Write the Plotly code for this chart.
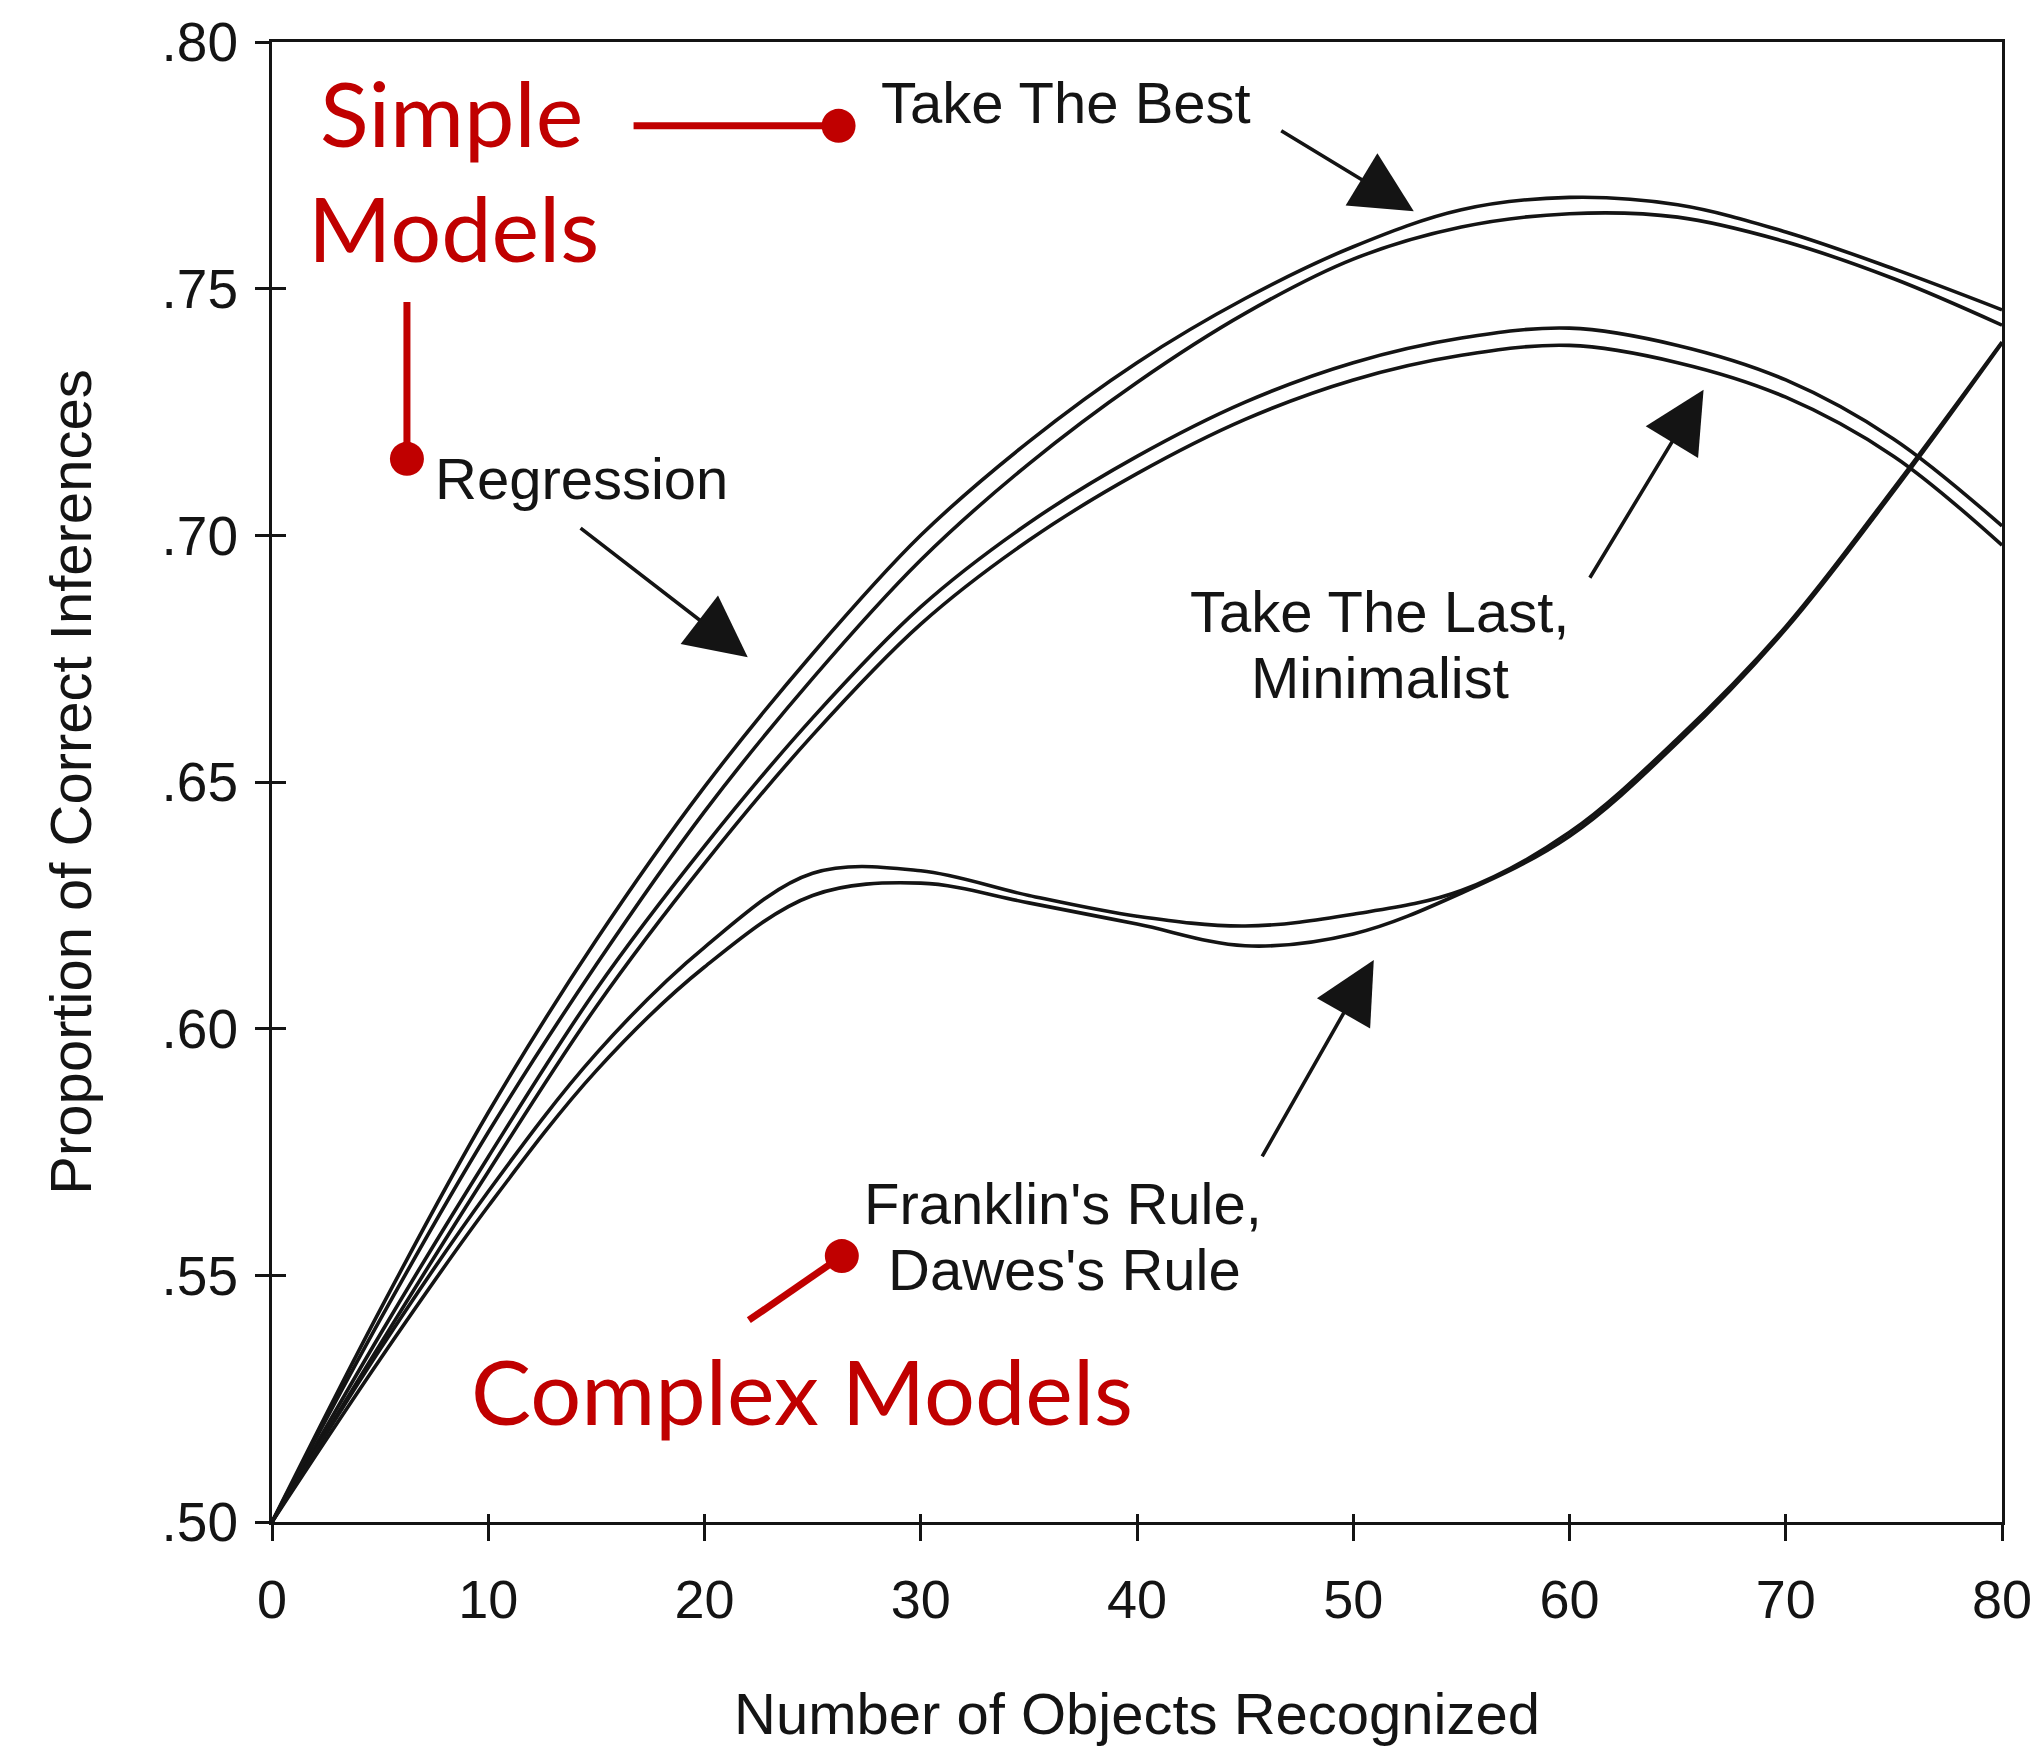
import plotly.graph_objects as go

# ---------------- data ----------------
objects_recognized = [0, 5, 10, 15, 20, 25, 30, 35, 40, 45, 50, 55, 60, 65, 70, 75, 80]

take_the_best = [.500, .543, .583, .618, .649, .676, .700, .719, .735, .748, .7585, .766, .7685, .767, .7615, .754, .7457]
regression    = [.500, .541, .579, .613, .644, .671, .695, .7145, .731, .745, .756, .7625, .7652, .7645, .7595, .752, .7426]
take_the_last = [.500, .538, .574, .608, .637, .663, .6855, .7025, .716, .727, .735, .740, .742, .7385, .7315, .7195, .7019]
minimalist    = [.500, .536, .571, .6045, .6335, .6595, .682, .699, .7125, .7235, .7315, .7365, .7385, .735, .728, .716, .698]
franklin      = [.500, .535, .567, .595, .6165, .6315, .632, .627, .6228, .6208, .6232, .628, .6398, .6588, .6815, .7096, .7392]
dawes         = [.500, .533, .564, .5915, .6125, .627, .6295, .6255, .6212, .6168, .6192, .6275, .639, .658, .681, .709, .739]

x_tick_vals = [0, 10, 20, 30, 40, 50, 60, 70, 80]
y_tick_vals = [.50, .55, .60, .65, .70, .75, .80]
y_tick_text = [".50", ".55", ".60", ".65", ".70", ".75", ".80"]

x_title = "Number of Objects Recognized"
y_title = "Proportion of Correct Inferences"

# ---------------- styles ----------------
INK = "#141414"
RED = "#C00000"
SANS = "Liberation Sans, Arial, Helvetica, sans-serif"
HUMAN = "Lato, 'Open Sans', sans-serif"

fig = go.Figure()

series = [take_the_best, regression, take_the_last, minimalist, franklin]
for s in series:
    fig.add_trace(go.Scatter(x=objects_recognized, y=s, mode="lines",
                             line=dict(color=INK, width=3.6, shape="spline", smoothing=1.0),
                             hoverinfo="skip"))
# last curve drawn on the overlaid (matching) axes that carry the inner tick marks
fig.add_trace(go.Scatter(x=objects_recognized, y=dawes, mode="lines", xaxis="x2", yaxis="y2",
                         line=dict(color=INK, width=3.6, shape="spline", smoothing=1.0),
                         hoverinfo="skip"))

axis_common = dict(showgrid=False, zeroline=False, tickcolor=INK, tickwidth=3, automargin=False)

fig.update_layout(
    width=2040, height=1746,
    margin=dict(l=272, r=38, t=42, b=224, autoexpand=False),
    paper_bgcolor="white", plot_bgcolor="white",
    showlegend=False,
    xaxis=dict(range=[0, 80], tickvals=x_tick_vals, ticks="outside", ticklen=16,
               showline=True, linewidth=3, linecolor=INK, mirror=True,
               ticklabeloverflow="allow",
               tickfont=dict(family=SANS, size=54, color=INK), ticklabelstandoff=12,
               title=dict(text=x_title, font=dict(family=SANS, size=58, color=INK), standoff=66),
               **axis_common),
    yaxis=dict(range=[0.5, 0.8], tickvals=y_tick_vals, ticktext=y_tick_text, ticks="outside", ticklen=14,
               showline=True, linewidth=3, linecolor=INK, mirror=True,
               ticklabeloverflow="allow",
               tickfont=dict(family=SANS, size=55, color=INK), ticklabelstandoff=6,
               title=dict(text=y_title, font=dict(family=SANS, size=58, color=INK), standoff=52),
               **axis_common),
    xaxis2=dict(overlaying="x", matches="x", tickvals=x_tick_vals, ticks="inside", ticklen=8,
                showticklabels=False, showline=False, **axis_common),
    yaxis2=dict(overlaying="y", matches="y", tickvals=y_tick_vals, ticks="inside", ticklen=14,
                showticklabels=False, showline=False, **axis_common),
)

# ---------------- black labels ----------------
def label(text, x, y, xanchor="center", size=58):
    fig.add_annotation(x=x, y=y, xref="x", yref="y", text=text, showarrow=False,
                       xanchor=xanchor, yanchor="middle",
                       font=dict(family=SANS, size=size, color=INK))

label("Take The Best", 36.7, .7878)
label("Regression", 7.45, .7116, xanchor="left")
label("Take The Last,", 51.2, .6845)
label("Minimalist", 51.25, .6711)
label("Franklin's Rule,", 36.6, .5645)
label("Dawes's Rule", 36.65, .5511)

# ---------------- arrows ----------------
def arrow(tail, head):
    fig.add_annotation(x=head[0], y=head[1], ax=tail[0], ay=tail[1],
                       xref="x", yref="y", axref="x", ayref="y", text="",
                       showarrow=True, arrowhead=2, arrowsize=3.4, arrowwidth=3.6,
                       arrowcolor=INK, standoff=0, startstandoff=0)

arrow((46.6, .7822), (52.8, .7657))     # Take The Best
arrow((14.20, .7017), (22.00, .6753))   # Regression
arrow((60.9, .6911), (66.2, .7295))     # Take The Last, Minimalist
arrow((45.75, .5738), (50.95, .6139))   # Franklin's / Dawes's

# ---------------- red call-outs ----------------
def red_text(text, x, y):
    fig.add_annotation(x=x, y=y, xref="x", yref="y", text=text, showarrow=False,
                       xanchor="center", yanchor="middle",
                       font=dict(family=HUMAN, size=90, color=RED))

red_text("Simple", 8.32, .7858)
red_text("Models", 8.41, .7624)
red_text("Complex Models", 24.5, .5267)

def red_pin(p0, p1):
    fig.add_shape(type="line", xref="x", yref="y", x0=p0[0], y0=p0[1], x1=p1[0], y1=p1[1],
                  line=dict(color=RED, width=7))
    fig.add_shape(type="circle", xref="x", yref="y", xsizemode="pixel", ysizemode="pixel",
                  xanchor=p1[0], yanchor=p1[1], x0=-17, x1=17, y0=-17, y1=17,
                  fillcolor=RED, line=dict(color=RED, width=0))

red_pin((16.72, .7830), (26.2, .7830))
red_pin((6.24, .7473), (6.24, .7155))
red_pin((22.05, .5409), (26.35, .5539))

fig.write_html("out.html")
